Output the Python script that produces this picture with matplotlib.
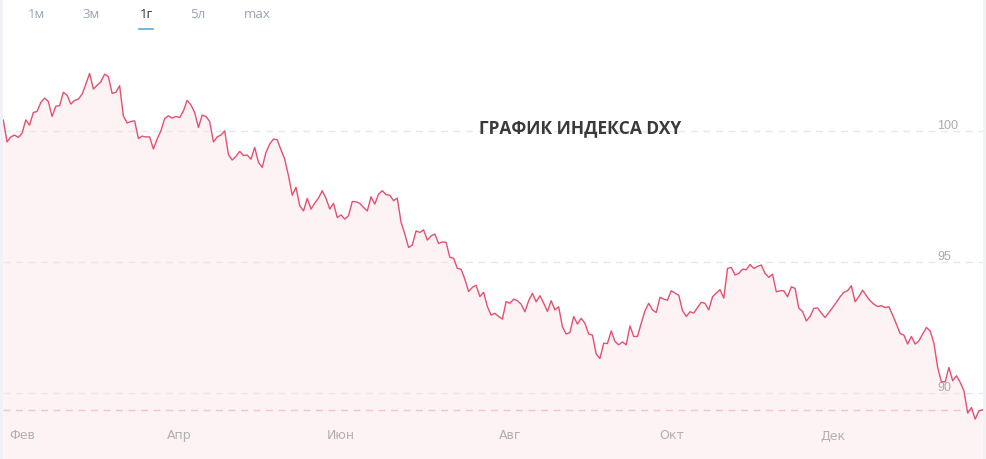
import pandas as pd
import numpy as np
import matplotlib
matplotlib.use("Agg")
import matplotlib.pyplot as plt

# DXY index, daily closes (one year)
values = [
    100.40, 99.57, 99.76, 99.83, 99.74, 99.90, 100.41, 100.21, 100.69, 100.73,
    101.07, 101.24, 101.11, 100.54, 100.93, 100.95, 101.46, 101.35, 101.01, 101.15,
    101.20, 101.39, 101.77, 102.18, 101.58, 101.73, 101.86, 102.15, 102.06, 101.42,
    101.46, 101.71, 100.56, 100.29, 100.35, 100.37, 99.70, 99.79, 99.76, 99.76,
    99.30, 99.68, 99.99, 100.46, 100.56, 100.48, 100.54, 100.50, 100.75, 101.15,
    100.98, 100.69, 100.12, 100.59, 100.54, 100.35, 99.57, 99.76, 99.83, 99.99,
    99.08, 98.88, 99.02, 99.21, 99.05, 99.07,
    98.91, 99.36, 98.79, 98.60, 99.17, 99.49, 99.68, 99.65, 99.27, 98.91,
    98.28, 97.54, 97.84, 97.14, 96.94, 97.42, 97.01, 97.24, 97.43, 97.71,
    97.42, 97.01, 97.23, 96.69, 96.79, 96.63, 96.76, 97.30, 97.29, 97.23,
    97.07, 96.94, 97.48, 97.20, 97.58, 97.71, 97.56, 97.54, 97.33, 97.43,
    96.50, 96.06, 95.55, 95.64, 96.18, 96.12, 96.22, 95.83, 95.99, 96.06,
    95.70, 95.76, 95.74, 95.17, 95.14, 94.75, 94.72, 94.34, 93.87, 94.03,
    94.11, 93.68, 93.84,
    93.30, 92.97, 93.04, 92.92, 92.82, 93.49, 93.42, 93.58, 93.52, 93.39,
    93.10, 93.52, 93.80, 93.48, 93.71, 93.43, 93.11, 93.52, 93.17, 93.29,
    92.53, 92.25, 92.31, 92.92, 92.63, 92.85, 92.66, 92.25, 92.21, 91.49,
    91.32, 91.90, 91.89, 92.37, 91.97, 91.84, 91.95, 91.84, 92.56, 92.16,
    92.16, 92.66, 93.14, 93.42, 93.17, 93.07, 93.65, 93.58, 93.54, 93.90,
    93.81, 93.73,
    93.14, 92.92, 93.10, 93.05, 93.26, 93.46, 93.42, 93.17, 93.67, 93.81,
    93.94, 93.62, 94.75, 94.79, 94.50, 94.56, 94.72, 94.70, 94.90, 94.75,
    94.83, 94.88, 94.56, 94.41, 94.53, 93.86, 93.90, 93.90, 93.67, 94.05,
    93.99, 93.24, 93.11, 92.75, 92.92, 93.23, 93.24, 93.05, 92.88, 93.07,
    93.26, 93.46, 93.67, 93.84, 93.90, 94.09, 93.48, 93.68, 93.92, 93.71,
    93.52, 93.39, 93.30, 93.33, 93.26, 93.29, 92.97, 92.63, 92.27, 92.21,
    91.87, 92.16, 91.87, 91.99, 92.25, 92.50, 92.37, 91.90, 90.98, 90.43,
    90.43, 90.98, 90.47, 90.66, 90.41, 90.09, 89.24, 89.45, 89.01, 89.33,
    89.36,
]
start_date = "2020-01-27"
month_labels = {2: "Фев", 4: "Апр", 6: "Июн", 8: "Авг", 10: "Окт", 12: "Дек"}
y_ticks = [90, 95, 100]
periods = ["1м", "3м", "1г", "5л", "max"]
active_period = "1г"
title = "ГРАФИК ИНДЕКСА DXY"

dates = pd.bdate_range(start=start_date, periods=len(values))
x = np.arange(len(values))

# first trading day of each labelled month
tick_idx, tick_lab = [], []
for i in range(1, len(dates)):
    m = dates[i].month
    if m != dates[i - 1].month and m in month_labels:
        tick_idx.append(i)
        tick_lab.append(month_labels[m])

plt.rcParams['lines.scale_dashes'] = False

W, H = 987, 460
fig = plt.figure(figsize=(W / 100, H / 100), dpi=100)
fig.patch.set_facecolor("white")

# thin grey side strips
fig.add_artist(plt.Rectangle((0, 0), 3 / W, 1, transform=fig.transFigure, color="#f1f2f5", lw=0))
fig.add_artist(plt.Rectangle((983 / W, 0), 4 / W, 1, transform=fig.transFigure, color="#f1f2f5", lw=0))

ax = fig.add_axes([3.3 / W, 0, 979.4 / W, 420 / H])
ax.set_xlim(0, len(values) - 1)
ax.set_ylim(87.49, 103.49)
ax.set_facecolor("none")
for s in ax.spines.values():
    s.set_visible(False)
ax.set_xticks([])
ax.set_yticks([])

line_c = "#e5506f"
ax.fill_between(x, values, 80, color="#fdf2f4", lw=0, zorder=1)
for v in y_ticks:
    ax.axhline(v, color="#e8e8e8", lw=1, dashes=(5, 4), zorder=2)
    ax.annotate(str(v), xy=(0.9535, v), xycoords=("axes fraction", "data"),
                xytext=(0, 2.2), textcoords="offset points", ha="left", va="baseline",
                fontsize=9, color="#ababab", family=["Liberation Sans", "DejaVu Sans"])
# current value line
ax.axhline(values[-1], color="#f4c3ce", lw=1, dashes=(5, 4), zorder=2)
ax.plot(x, values, color=line_c, lw=1.0, zorder=3)

# month labels sit inside the filled area
for i, lab in zip(tick_idx, tick_lab):
    ax.text(i, 24 / 420, lab, transform=ax.get_xaxis_transform(),
            ha="center", va="center", fontsize=9, color="#b0b0b0",
            family=["Liberation Sans Narrow", "DejaVu Sans"])

fig.text(580 / W, 1 - 128 / H, title, ha="center", va="center",
         fontsize=12.5, fontweight="bold", color="#3a3a3a", family=["Open Sans", "DejaVu Sans"])

# period buttons
btn_x = [36, 91, 146, 198, 257]
for bx, p in zip(btn_x, periods):
    col = "#333333" if p == active_period else "#9aa4b3"
    fig.text(bx / W, 1 - 15 / H, p, ha="center", va="center", fontsize=9.5,
             color=col, family=["Open Sans", "DejaVu Sans"])
    if p == active_period:
        fig.add_artist(plt.Line2D([(bx - 7) / W, (bx + 7) / W], [1 - 29.5 / H] * 2,
                                  transform=fig.transFigure, color="#5aaad8", lw=1.2))

fig.savefig("out.png", dpi=100)
